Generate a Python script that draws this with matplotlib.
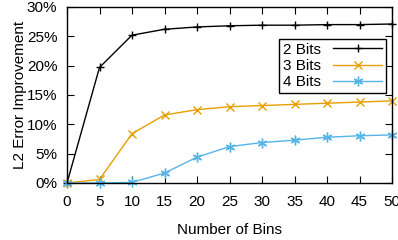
import matplotlib.pyplot as plt
from matplotlib.ticker import FuncFormatter

plt.rcParams['font.family'] = ['Liberation Sans', 'DejaVu Sans']

bins = [0, 5, 10, 15, 20, 25, 30, 35, 40, 45, 50]
bits2 = [0, 19.7, 25.2, 26.2, 26.6, 26.8, 26.9, 26.9, 27.0, 27.0, 27.1]
bits3 = [0, 0.6, 8.4, 11.6, 12.5, 13.0, 13.2, 13.4, 13.6, 13.8, 14.0]
bits4 = [0, 0, 0.1, 1.7, 4.4, 6.2, 6.9, 7.3, 7.8, 8.05, 8.2]

fig = plt.figure(figsize=(3.98, 2.4), dpi=100)
ax = fig.add_axes([67/398, 1-183/240, 325/398, 176/240])

ax.plot(bins, bits2, color='black', marker='+', ms=6, lw=1, label='2 Bits', clip_on=False)
ax.plot(bins, bits3, color='#E69F00', marker='x', ms=6, lw=1, label='3 Bits', clip_on=False)
ax.plot(bins, bits4, color='#56B4E9', marker=(6, 2, 0), ms=7, lw=1, label='4 Bits', clip_on=False)

ax.set_xlim(0, 50)
ax.set_ylim(0, 30)
ax.set_xticks(bins)
ax.set_yticks(range(0, 31, 5))
ax.yaxis.set_major_formatter(FuncFormatter(lambda v, p: '%d%%' % v))
ax.tick_params(direction='in', top=True, right=True, labelsize=11, length=5)
ax.tick_params(axis='x', pad=9)
ax.tick_params(axis='y', pad=7)
for s in ax.spines.values():
    s.set_linewidth(1)

ax.set_xlabel('Number of Bins', fontsize=11, labelpad=10)
ax.set_ylabel('L2 Error Improvement', fontsize=11, labelpad=0)

leg = ax.legend(loc='upper right', bbox_to_anchor=(1 - 6/325, 1 - 32/176), fontsize=11,
                markerfirst=False, fancybox=False, framealpha=1, edgecolor='black',
                borderpad=0.25, labelspacing=0.15, handlelength=3.2, handletextpad=0.8,
                borderaxespad=0)
leg.get_frame().set_linewidth(1)
for t in leg.get_texts():
    t.set_x(0)

fig.savefig('out.png', dpi=100)
